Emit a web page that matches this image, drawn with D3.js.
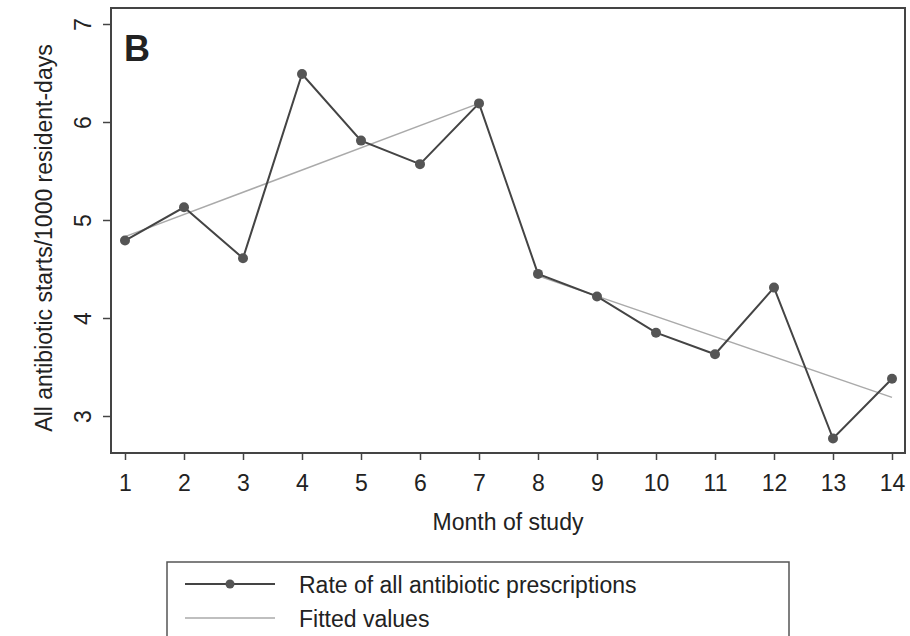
<!DOCTYPE html>
<html>
<head>
<meta charset="utf-8">
<script src="https://cdn.jsdelivr.net/npm/d3@7"></script>
<style>
  body { margin: 0; background: #fff; }
  text { font-family: "Liberation Sans", Arial, sans-serif; fill: #222; }
</style>
</head>
<body>
<div id="chart"></div>
<script>
// Monthly rate of antibiotic starts
const months = [1, 2, 3, 4, 5, 6, 7, 8, 9, 10, 11, 12, 13, 14];
const rates = [4.79, 5.13, 4.61, 6.49, 5.81, 5.57, 6.19, 4.45, 4.22, 3.85, 3.63, 4.31, 2.77, 3.38];
// Fitted segments (pre / post intervention)
const fitPre = [{ m: 1, v: 4.83 }, { m: 7, v: 6.19 }];
const fitPost = [{ m: 8, v: 4.43 }, { m: 14, v: 3.19 }];
const yTicks = [3, 4, 5, 6, 7];

const width = 910, height = 636;
const box = { left: 111, right: 905, top: 8, bottom: 453 };
const fs = 23;

const svg = d3.select('#chart').append('svg')
  .attr('width', width)
  .attr('height', height);

const x = d3.scaleLinear().domain([1, 14]).range([125, 892]);
const y = d3.scaleLinear().domain([3, 7]).range([416, 24]);

// plot frame
svg.append('rect')
  .attr('x', box.left).attr('y', box.top)
  .attr('width', box.right - box.left)
  .attr('height', box.bottom - box.top)
  .attr('fill', 'none')
  .attr('stroke', '#444')
  .attr('stroke-width', 2);

// Axes
const xAxis = svg.append('g')
  .attr('transform', `translate(0,${box.bottom})`)
  .call(d3.axisBottom(x).tickValues(months).tickFormat(d3.format('d')).tickSize(7).tickPadding(5));
xAxis.select('.domain').remove();
xAxis.selectAll('line').attr('stroke', '#444').attr('stroke-width', 1.5);
xAxis.selectAll('text')
  .attr('font-size', fs).attr('fill', '#222')
  .style('font-family', '"Liberation Sans", Arial, sans-serif')
  .attr('dy', null)
  .attr('y', 38);

const yAxis = svg.append('g')
  .attr('transform', `translate(${box.left},0)`)
  .call(d3.axisLeft(y).tickValues(yTicks).tickSize(8).tickFormat(d3.format('d')));
yAxis.select('.domain').remove();
yAxis.selectAll('line').attr('stroke', '#444').attr('stroke-width', 1.5);
yAxis.selectAll('text')
  .attr('font-size', fs).attr('fill', '#222')
  .style('font-family', '"Liberation Sans", Arial, sans-serif')
  .attr('x', null).attr('dy', null)
  .attr('text-anchor', 'middle')
  .attr('transform', 'translate(-27,0) rotate(-90)')
  .attr('y', 7);

// axis titles
svg.append('text')
  .attr('x', 508).attr('y', 530)
  .attr('text-anchor', 'middle')
  .attr('font-size', fs)
  .text('Month of study');

svg.append('text')
  .attr('transform', 'translate(52,238) rotate(-90)')
  .attr('text-anchor', 'middle')
  .attr('font-size', fs)
  .text('All antibiotic starts/1000 resident-days');

// panel label
svg.append('text')
  .attr('x', 124).attr('y', 61)
  .attr('font-size', 36)
  .attr('font-weight', 'bold')
  .attr('fill', '#111')
  .text('B');

// fitted lines
const fitLine = d3.line().x(d => x(d.m)).y(d => y(d.v));
[fitPre, fitPost].forEach(seg => {
  svg.append('path')
    .datum(seg)
    .attr('fill', 'none')
    .attr('stroke', '#aaa')
    .attr('stroke-width', 1.5)
    .attr('d', fitLine);
});

// observed series
const pts = months.map((m, i) => ({ m, v: rates[i] }));
svg.append('path')
  .datum(pts)
  .attr('fill', 'none')
  .attr('stroke', '#444')
  .attr('stroke-width', 2)
  .attr('d', d3.line().x(d => x(d.m)).y(d => y(d.v)));

svg.selectAll('circle.pt')
  .data(pts)
  .join('circle')
  .attr('class', 'pt')
  .attr('cx', d => x(d.m))
  .attr('cy', d => y(d.v))
  .attr('r', 5)
  .attr('fill', '#555');

// legend
const lg = svg.append('g');
lg.append('rect')
  .attr('x', 167).attr('y', 562)
  .attr('width', 622).attr('height', 90)
  .attr('fill', '#fff')
  .attr('stroke', '#555')
  .attr('stroke-width', 1.5);

lg.append('line')
  .attr('x1', 185).attr('x2', 275).attr('y1', 584).attr('y2', 584)
  .attr('stroke', '#444').attr('stroke-width', 2);
lg.append('circle')
  .attr('cx', 230).attr('cy', 584).attr('r', 4.5).attr('fill', '#555');
lg.append('text')
  .attr('x', 299).attr('y', 593)
  .attr('font-size', fs)
  .text('Rate of all antibiotic prescriptions');

lg.append('line')
  .attr('x1', 185).attr('x2', 275).attr('y1', 618).attr('y2', 618)
  .attr('stroke', '#aaa').attr('stroke-width', 1.5);
lg.append('text')
  .attr('x', 299).attr('y', 627)
  .attr('font-size', fs)
  .text('Fitted values');
</script>
</body>
</html>
